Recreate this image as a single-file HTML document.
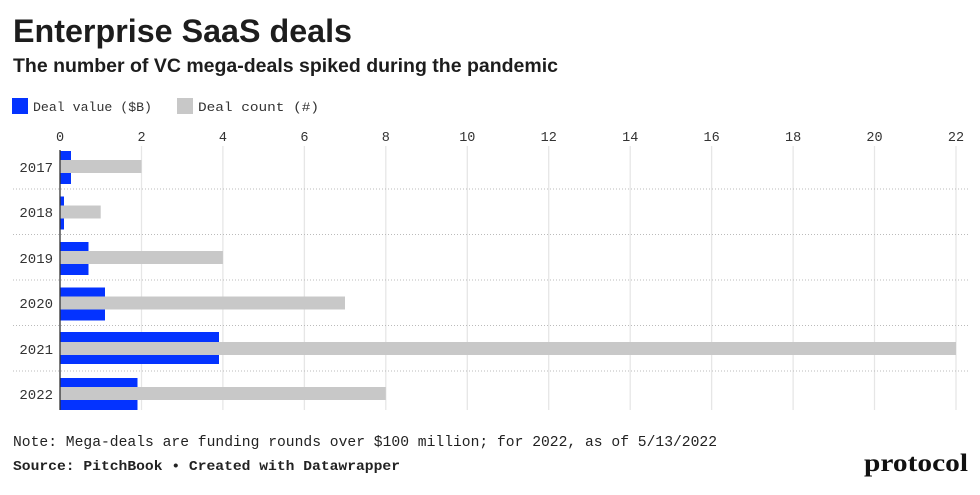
<!DOCTYPE html>
<html><head><meta charset="utf-8"><style>
html,body{margin:0;padding:0;background:#fff;}
svg{display:block;}
</style></head><body>
<svg width="980" height="495" viewBox="0 0 980 495" xmlns="http://www.w3.org/2000/svg">
<rect width="980" height="495" fill="#fff"/>
<text x="13" y="42" font-family="Liberation Sans, sans-serif" font-weight="bold" font-size="32" fill="#1d1d1d" textLength="339" lengthAdjust="spacingAndGlyphs">Enterprise SaaS deals</text>
<text x="13" y="72" font-family="Liberation Sans, sans-serif" font-weight="bold" font-size="19" fill="#1d1d1d" textLength="545" lengthAdjust="spacingAndGlyphs">The number of VC mega-deals spiked during the pandemic</text>
<rect x="12" y="98" width="16" height="16" fill="#0433ff"/>
<text x="33" y="111" font-family="Liberation Mono, monospace" font-size="13.2" fill="#333" textLength="119" lengthAdjust="spacingAndGlyphs">Deal value ($B)</text>
<rect x="177" y="98" width="16" height="16" fill="#c8c8c8"/>
<text x="198" y="111" font-family="Liberation Mono, monospace" font-size="13.2" fill="#333" textLength="121" lengthAdjust="spacingAndGlyphs">Deal count (#)</text>
<g font-family="Liberation Mono, monospace" font-size="13.5" fill="#333" text-anchor="middle">
<text x="60" y="141">0</text><text x="141.5" y="141">2</text><text x="222.9" y="141">4</text><text x="304.4" y="141">6</text><text x="385.8" y="141">8</text><text x="467.3" y="141">10</text><text x="548.7" y="141">12</text><text x="630.2" y="141">14</text><text x="711.6" y="141">16</text><text x="793.1" y="141">18</text><text x="874.5" y="141">20</text><text x="956" y="141">22</text>
</g>
<g stroke="#e6e6e6" stroke-width="1.3">
<line x1="141.5" y1="146" x2="141.5" y2="410"/><line x1="222.9" y1="146" x2="222.9" y2="410"/><line x1="304.4" y1="146" x2="304.4" y2="410"/><line x1="385.8" y1="146" x2="385.8" y2="410"/><line x1="467.3" y1="146" x2="467.3" y2="410"/><line x1="548.7" y1="146" x2="548.7" y2="410"/><line x1="630.2" y1="146" x2="630.2" y2="410"/><line x1="711.6" y1="146" x2="711.6" y2="410"/><line x1="793.1" y1="146" x2="793.1" y2="410"/><line x1="874.5" y1="146" x2="874.5" y2="410"/><line x1="956" y1="146" x2="956" y2="410"/>
</g>
<g stroke="#bbb" stroke-width="1" stroke-dasharray="1,2">
<line x1="13" y1="189" x2="968" y2="189"/><line x1="13" y1="234.5" x2="968" y2="234.5"/><line x1="13" y1="280" x2="968" y2="280"/><line x1="13" y1="325.5" x2="968" y2="325.5"/><line x1="13" y1="371" x2="968" y2="371"/>
</g>
<g>
<!-- 2017 -->
<rect x="60" y="151" width="11" height="33" fill="#0433ff"/><rect x="60" y="160" width="81.5" height="13" fill="#c8c8c8"/>
<!-- 2018 -->
<rect x="60" y="196.5" width="4" height="33" fill="#0433ff"/><rect x="60" y="205.5" width="40.7" height="13" fill="#c8c8c8"/>
<!-- 2019 -->
<rect x="60" y="242" width="28.5" height="33" fill="#0433ff"/><rect x="60" y="251" width="162.9" height="13" fill="#c8c8c8"/>
<!-- 2020 -->
<rect x="60" y="287.5" width="45" height="33" fill="#0433ff"/><rect x="60" y="296.5" width="285" height="13" fill="#c8c8c8"/>
<!-- 2021 -->
<rect x="60" y="332" width="159" height="32" fill="#0433ff"/><rect x="60" y="342" width="896" height="13" fill="#c8c8c8"/>
<!-- 2022 -->
<rect x="60" y="378" width="77.5" height="32" fill="#0433ff"/><rect x="60" y="387" width="325.8" height="13" fill="#c8c8c8"/>
</g>
<line x1="60" y1="150" x2="60" y2="410" stroke="#333" stroke-width="1.3"/>
<g font-family="Liberation Mono, monospace" font-size="14" fill="#333" text-anchor="end">
<text x="53" y="172">2017</text><text x="53" y="217">2018</text><text x="53" y="263">2019</text><text x="53" y="308">2020</text><text x="53" y="354">2021</text><text x="53" y="399">2022</text>
</g>
<text x="13" y="446" font-family="Liberation Mono, monospace" font-size="15" fill="#222" textLength="704" lengthAdjust="spacingAndGlyphs">Note: Mega-deals are funding rounds over $100 million; for 2022, as of 5/13/2022</text>
<text x="13" y="470" font-family="Liberation Mono, monospace" font-weight="bold" font-size="14" fill="#222" textLength="387" lengthAdjust="spacingAndGlyphs">Source: PitchBook • Created with Datawrapper</text>
<text x="864" y="471" font-family="Liberation Serif, serif" font-weight="bold" font-size="25" fill="#111" textLength="104" lengthAdjust="spacingAndGlyphs">protocol</text>
</svg>
</body></html>
